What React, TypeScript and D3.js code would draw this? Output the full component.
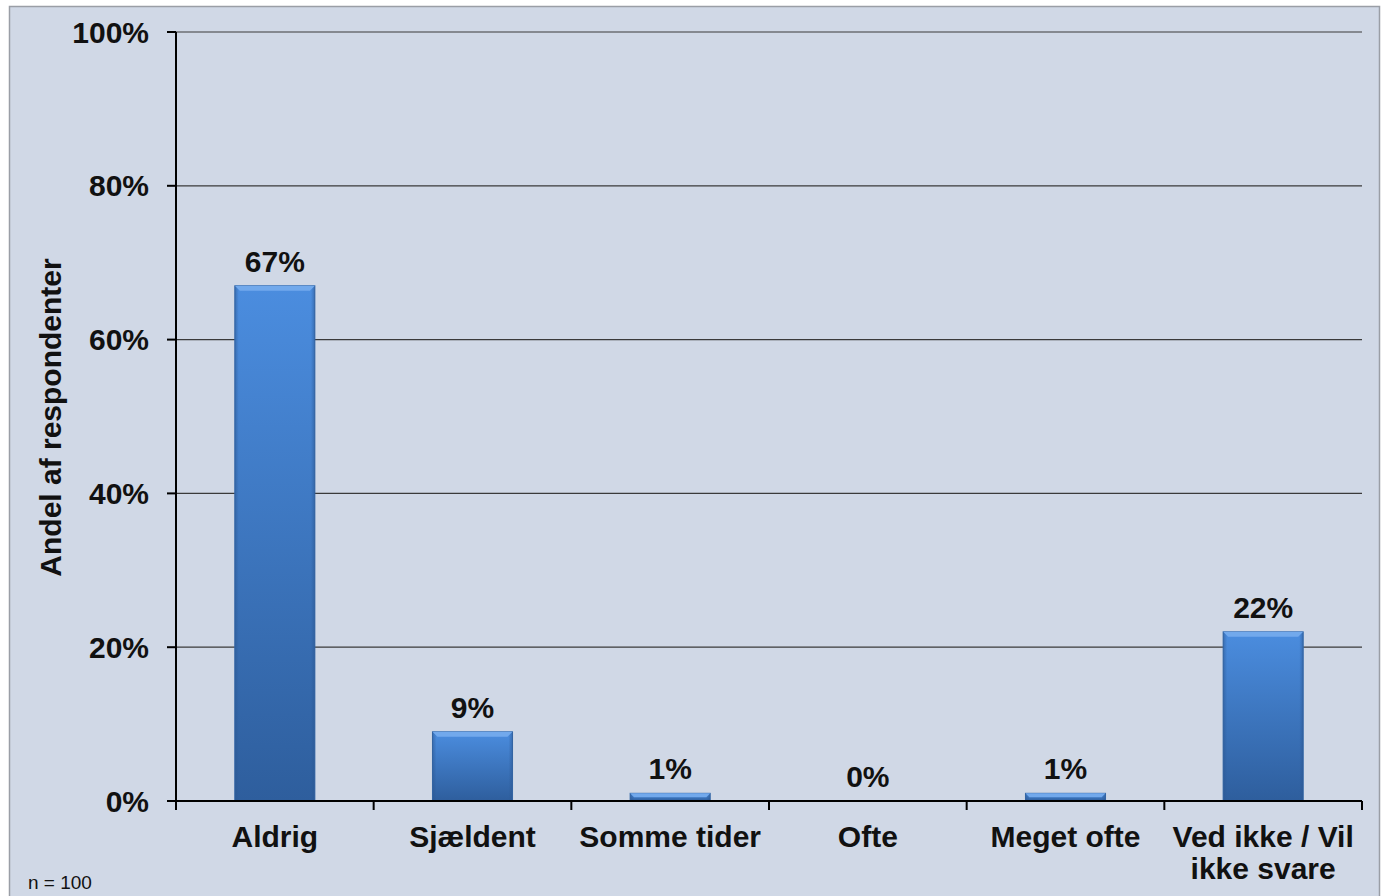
import React from "react";
import * as d3 from "d3";

const categories: string[][] = [
  ["Aldrig"],
  ["Sjældent"],
  ["Somme tider"],
  ["Ofte"],
  ["Meget ofte"],
  ["Ved ikke / Vil", "ikke svare"],
];
const values: number[] = [67, 9, 1, 0, 1, 22];
const yTicks: number[] = [0, 20, 40, 60, 80, 100];
const yTitle = "Andel af respondenter";
const note = "n = 100";

const W = 1381;
const H = 896;
const M = { left: 176, right: 1362, top: 32, bottom: 801 };
const FONT = "'Liberation Sans', Arial, sans-serif";

export default function App() {
  const keys = categories.map((c) => c.join(" "));
  const x = d3.scaleBand<string>().domain(keys).range([M.left, M.right]).paddingInner(0.595).paddingOuter(0.2975);
  const xTick = d3.scaleBand<string>().domain(keys).range([M.left, M.right]);
  const y = d3.scaleLinear().domain([0, 100]).range([M.bottom, M.top]);
  const bw = x.bandwidth();

  return (
    <svg width={W} height={H} style={{ position: "absolute", left: 0, top: 0, display: "block" }} fontFamily={FONT}>
      <defs>
        <linearGradient id="barGrad" x1="0" y1="0" x2="0" y2="1">
          <stop offset="0%" stopColor="#4b8ddf" />
          <stop offset="100%" stopColor="#2e5e9d" />
        </linearGradient>
        <linearGradient id="sideL" x1="0" y1="0" x2="1" y2="0">
          <stop offset="0%" stopColor="#2b5690" stopOpacity="0.55" />
          <stop offset="100%" stopColor="#2b5690" stopOpacity="0" />
        </linearGradient>
        <linearGradient id="sideR" x1="1" y1="0" x2="0" y2="0">
          <stop offset="0%" stopColor="#2b5690" stopOpacity="0.55" />
          <stop offset="100%" stopColor="#2b5690" stopOpacity="0" />
        </linearGradient>
      </defs>
      <rect x={0} y={0} width={W} height={H} fill="#ffffff" />
      <rect x={9.5} y={6.5} width={1370} height={900} fill="#d0d8e6" stroke="#9a9ea6" strokeWidth={1.5} />

      {/* gridlines */}
      {yTicks.filter((t) => t > 0).map((t) => (
        <line key={"g" + t} x1={M.left} x2={M.right} y1={y(t)} y2={y(t)} stroke="#3a3a3a" strokeWidth={1.2} />
      ))}

      {/* bars */}
      {values.map((v, i) => {
        const bx = x(keys[i])!;
        const by = y(v);
        const h = y(0) - by;
        if (h <= 0.5) return null;
        const bev = Math.min(5, h / 2);
        return (
          <g key={"b" + i}>
            <rect x={bx} y={by} width={bw} height={h} fill="url(#barGrad)" stroke="#3568a8" strokeWidth={1} />
            <rect x={bx} y={by} width={4} height={h} fill="url(#sideL)" />
            <rect x={bx + bw - 4} y={by} width={4} height={h} fill="url(#sideR)" />
            <polygon
              points={`${bx},${by} ${bx + bw},${by} ${bx + bw - bev},${by + bev} ${bx + bev},${by + bev}`}
              fill="#72a9ec"
            />
          </g>
        );
      })}

      {/* axes */}
      <line x1={M.left} x2={M.left} y1={M.top} y2={M.bottom} stroke="#000" strokeWidth={2} />
      <line x1={M.left - 8} x2={M.right} y1={M.bottom} y2={M.bottom} stroke="#000" strokeWidth={2} />
      {yTicks.map((t) => (
        <g key={"yt" + t}>
          <line x1={M.left - 9} x2={M.left} y1={y(t)} y2={y(t)} stroke="#000" strokeWidth={2} />
          <text x={149} y={y(t)} dy="0.35em" textAnchor="end" fontSize={30} fontWeight="bold" fill="#111">
            {t + "%"}
          </text>
        </g>
      ))}
      {keys.map((k, i) => (
        <line key={"xt" + i} x1={xTick(k)!} x2={xTick(k)!} y1={M.bottom} y2={M.bottom + 9} stroke="#000" strokeWidth={2} />
      ))}
      <line x1={M.right} x2={M.right} y1={M.bottom} y2={M.bottom + 9} stroke="#000" strokeWidth={2} />

      {/* category labels */}
      {categories.map((lines, i) => (
        <text key={"c" + i} x={x(keys[i])! + bw / 2} y={847} textAnchor="middle" fontSize={30} fontWeight="bold" fill="#111">
          {lines.map((l, j) => (
            <tspan key={j} x={x(keys[i])! + bw / 2} dy={j === 0 ? 0 : 32}>
              {l}
            </tspan>
          ))}
        </text>
      ))}

      {/* value labels */}
      {values.map((v, i) => (
        <text key={"v" + i} x={x(keys[i])! + bw / 2} y={y(v) - 14} textAnchor="middle" fontSize={30} fontWeight="bold" fill="#111">
          {v + "%"}
        </text>
      ))}

      {/* y title */}
      <text transform={`translate(61, ${(M.top + M.bottom) / 2 + 1}) rotate(-90)`} textAnchor="middle" fontSize={30} fontWeight="bold" fill="#111">
        {yTitle}
      </text>

      <text x={28} y={889} fontSize={19} fill="#111">
        {note}
      </text>
    </svg>
  );
}
